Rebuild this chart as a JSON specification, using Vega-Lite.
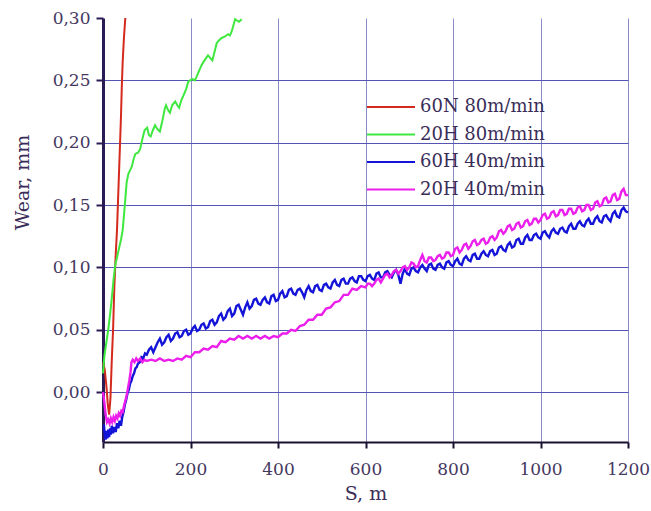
{
"$schema": "https://vega.github.io/schema/vega-lite/v6.json",
"width": 525, "height": 424,
"autosize": {"type": "none"},
"padding": {"left": 103, "top": 18, "right": 23, "bottom": 69},
"background": "white",
"config": {"view": {"stroke": null}, "font": "DejaVu Serif"},
"datasets": {
"red": [{"S":0,"W":0.024},{"S":4,"W":0.018},{"S":8,"W":0.004},{"S":11,"W":-0.010},{"S":14,"W":-0.018},{"S":17,"W":-0.005},{"S":20,"W":0.025},{"S":23,"W":0.05},{"S":26,"W":0.085},{"S":29,"W":0.11},{"S":32,"W":0.13},{"S":35,"W":0.16},{"S":38,"W":0.19},{"S":41,"W":0.22},{"S":43,"W":0.245},{"S":45,"W":0.265},{"S":48,"W":0.285},{"S":51,"W":0.30}],
"green": [{"S":0,"W":0.015},{"S":3,"W":0.028},{"S":6,"W":0.036},{"S":9,"W":0.043},{"S":12,"W":0.05},{"S":16,"W":0.062},{"S":20,"W":0.075},{"S":24,"W":0.09},{"S":28,"W":0.102},{"S":32,"W":0.108},{"S":37,"W":0.116},{"S":41,"W":0.122},{"S":45,"W":0.13},{"S":48,"W":0.142},{"S":51,"W":0.155},{"S":54,"W":0.168},{"S":58,"W":0.175},{"S":62,"W":0.178},{"S":66,"W":0.181},{"S":70,"W":0.187},{"S":74,"W":0.191},{"S":80,"W":0.192},{"S":85,"W":0.195},{"S":90,"W":0.203},{"S":95,"W":0.210},{"S":101,"W":0.212},{"S":105,"W":0.206},{"S":109,"W":0.205},{"S":114,"W":0.210},{"S":119,"W":0.214},{"S":124,"W":0.211},{"S":130,"W":0.209},{"S":136,"W":0.218},{"S":141,"W":0.227},{"S":144,"W":0.230},{"S":149,"W":0.226},{"S":153,"W":0.224},{"S":158,"W":0.230},{"S":165,"W":0.233},{"S":170,"W":0.230},{"S":174,"W":0.228},{"S":179,"W":0.234},{"S":184,"W":0.238},{"S":190,"W":0.243},{"S":195,"W":0.249},{"S":199,"W":0.250},{"S":205,"W":0.251},{"S":210,"W":0.250},{"S":214,"W":0.253},{"S":220,"W":0.258},{"S":225,"W":0.262},{"S":230,"W":0.265},{"S":236,"W":0.268},{"S":240,"W":0.270},{"S":245,"W":0.268},{"S":250,"W":0.266},{"S":255,"W":0.273},{"S":260,"W":0.280},{"S":265,"W":0.282},{"S":271,"W":0.284},{"S":278,"W":0.285},{"S":286,"W":0.287},{"S":290,"W":0.286},{"S":294,"W":0.289},{"S":298,"W":0.294},{"S":302,"W":0.299},{"S":306,"W":0.298},{"S":311,"W":0.297},{"S":317,"W":0.299}],
"blue": [{"S":2,"W":-0.026},{"S":4,"W":-0.034},{"S":6,"W":-0.038},{"S":8,"W":-0.031},{"S":10,"W":-0.037},{"S":12,"W":-0.030},{"S":14,"W":-0.036},{"S":16,"W":-0.029},{"S":18,"W":-0.034},{"S":20,"W":-0.027},{"S":23,"W":-0.033},{"S":26,"W":-0.028},{"S":29,"W":-0.032},{"S":32,"W":-0.025},{"S":35,"W":-0.029},{"S":38,"W":-0.023},{"S":41,"W":-0.027},{"S":44,"W":-0.020},{"S":47,"W":-0.016},{"S":50,"W":-0.010},{"S":53,"W":-0.006},{"S":56,"W":-0.001},{"S":59,"W":0.002},{"S":62,"W":0.007},{"S":65,"W":0.009},{"S":68,"W":0.013},{"S":71,"W":0.015},{"S":74,"W":0.019},{"S":77,"W":0.020},{"S":80,"W":0.023},{"S":84,"W":0.024},{"S":88,"W":0.028},{"S":92,"W":0.027},{"S":96,"W":0.031},{"S":100,"W":0.030},{"S":105,"W":0.034},{"S":110,"W":0.036},{"S":115,"W":0.032},{"S":120,"W":0.036},{"S":125,"W":0.040},{"S":130,"W":0.043},{"S":135,"W":0.038},{"S":140,"W":0.040},{"S":145,"W":0.044},{"S":150,"W":0.046},{"S":155,"W":0.041},{"S":160,"W":0.043},{"S":165,"W":0.047},{"S":170,"W":0.048},{"S":175,"W":0.044},{"S":180,"W":0.045},{"S":185,"W":0.049},{"S":190,"W":0.050},{"S":195,"W":0.046},{"S":200,"W":0.047},{"S":205,"W":0.051},{"S":210,"W":0.053},{"S":215,"W":0.049},{"S":220,"W":0.050},{"S":225,"W":0.054},{"S":230,"W":0.055},{"S":235,"W":0.051},{"S":240,"W":0.052},{"S":245,"W":0.057},{"S":250,"W":0.058},{"S":255,"W":0.054},{"S":260,"W":0.056},{"S":265,"W":0.061},{"S":270,"W":0.063},{"S":275,"W":0.058},{"S":280,"W":0.060},{"S":285,"W":0.065},{"S":290,"W":0.067},{"S":295,"W":0.061},{"S":300,"W":0.063},{"S":305,"W":0.069},{"S":310,"W":0.070},{"S":315,"W":0.066},{"S":320,"W":0.062},{"S":325,"W":0.068},{"S":330,"W":0.072},{"S":335,"W":0.067},{"S":340,"W":0.069},{"S":345,"W":0.074},{"S":350,"W":0.075},{"S":355,"W":0.071},{"S":360,"W":0.070},{"S":365,"W":0.074},{"S":370,"W":0.076},{"S":375,"W":0.072},{"S":380,"W":0.071},{"S":385,"W":0.077},{"S":390,"W":0.078},{"S":395,"W":0.073},{"S":400,"W":0.074},{"S":405,"W":0.079},{"S":410,"W":0.081},{"S":415,"W":0.076},{"S":420,"W":0.077},{"S":425,"W":0.082},{"S":430,"W":0.083},{"S":435,"W":0.079},{"S":440,"W":0.078},{"S":445,"W":0.082},{"S":450,"W":0.083},{"S":455,"W":0.080},{"S":460,"W":0.076},{"S":465,"W":0.082},{"S":470,"W":0.085},{"S":475,"W":0.081},{"S":480,"W":0.080},{"S":485,"W":0.085},{"S":490,"W":0.086},{"S":495,"W":0.082},{"S":500,"W":0.081},{"S":505,"W":0.086},{"S":510,"W":0.087},{"S":515,"W":0.084},{"S":520,"W":0.083},{"S":525,"W":0.088},{"S":530,"W":0.090},{"S":535,"W":0.086},{"S":540,"W":0.085},{"S":545,"W":0.090},{"S":550,"W":0.091},{"S":555,"W":0.087},{"S":560,"W":0.087},{"S":565,"W":0.091},{"S":570,"W":0.092},{"S":575,"W":0.089},{"S":580,"W":0.088},{"S":585,"W":0.093},{"S":590,"W":0.093},{"S":595,"W":0.090},{"S":600,"W":0.089},{"S":605,"W":0.093},{"S":610,"W":0.094},{"S":615,"W":0.091},{"S":620,"W":0.090},{"S":625,"W":0.095},{"S":630,"W":0.096},{"S":635,"W":0.092},{"S":640,"W":0.092},{"S":645,"W":0.096},{"S":650,"W":0.097},{"S":655,"W":0.094},{"S":660,"W":0.092},{"S":665,"W":0.096},{"S":670,"W":0.098},{"S":675,"W":0.094},{"S":680,"W":0.087},{"S":685,"W":0.095},{"S":690,"W":0.099},{"S":695,"W":0.095},{"S":700,"W":0.094},{"S":705,"W":0.099},{"S":710,"W":0.100},{"S":715,"W":0.097},{"S":720,"W":0.096},{"S":725,"W":0.100},{"S":730,"W":0.102},{"S":735,"W":0.099},{"S":740,"W":0.097},{"S":745,"W":0.102},{"S":750,"W":0.103},{"S":755,"W":0.099},{"S":760,"W":0.098},{"S":765,"W":0.102},{"S":770,"W":0.103},{"S":775,"W":0.100},{"S":780,"W":0.099},{"S":785,"W":0.104},{"S":790,"W":0.105},{"S":795,"W":0.102},{"S":800,"W":0.101},{"S":805,"W":0.105},{"S":810,"W":0.107},{"S":815,"W":0.103},{"S":820,"W":0.102},{"S":825,"W":0.107},{"S":830,"W":0.109},{"S":835,"W":0.106},{"S":840,"W":0.105},{"S":845,"W":0.110},{"S":850,"W":0.111},{"S":855,"W":0.107},{"S":860,"W":0.107},{"S":865,"W":0.111},{"S":870,"W":0.113},{"S":875,"W":0.110},{"S":880,"W":0.109},{"S":885,"W":0.113},{"S":890,"W":0.114},{"S":895,"W":0.110},{"S":900,"W":0.111},{"S":905,"W":0.116},{"S":910,"W":0.117},{"S":915,"W":0.114},{"S":920,"W":0.113},{"S":925,"W":0.118},{"S":930,"W":0.120},{"S":935,"W":0.116},{"S":940,"W":0.117},{"S":945,"W":0.122},{"S":950,"W":0.123},{"S":955,"W":0.119},{"S":960,"W":0.119},{"S":965,"W":0.124},{"S":970,"W":0.126},{"S":975,"W":0.122},{"S":980,"W":0.122},{"S":985,"W":0.126},{"S":990,"W":0.127},{"S":995,"W":0.124},{"S":1000,"W":0.123},{"S":1005,"W":0.128},{"S":1010,"W":0.129},{"S":1015,"W":0.126},{"S":1020,"W":0.124},{"S":1025,"W":0.129},{"S":1030,"W":0.131},{"S":1035,"W":0.128},{"S":1040,"W":0.127},{"S":1045,"W":0.131},{"S":1050,"W":0.132},{"S":1055,"W":0.129},{"S":1060,"W":0.128},{"S":1065,"W":0.133},{"S":1070,"W":0.135},{"S":1075,"W":0.131},{"S":1080,"W":0.131},{"S":1085,"W":0.135},{"S":1090,"W":0.137},{"S":1095,"W":0.134},{"S":1100,"W":0.133},{"S":1105,"W":0.137},{"S":1110,"W":0.139},{"S":1115,"W":0.135},{"S":1120,"W":0.135},{"S":1125,"W":0.139},{"S":1130,"W":0.141},{"S":1135,"W":0.137},{"S":1140,"W":0.136},{"S":1145,"W":0.141},{"S":1150,"W":0.142},{"S":1155,"W":0.139},{"S":1160,"W":0.137},{"S":1165,"W":0.143},{"S":1170,"W":0.145},{"S":1175,"W":0.141},{"S":1180,"W":0.140},{"S":1185,"W":0.146},{"S":1190,"W":0.148},{"S":1195,"W":0.145},{"S":1200,"W":0.144}],
"magenta": [{"S":0,"W":0.0},{"S":3,"W":-0.008},{"S":6,"W":-0.018},{"S":9,"W":-0.024},{"S":12,"W":-0.022},{"S":15,"W":-0.025},{"S":18,"W":-0.021},{"S":21,"W":-0.024},{"S":24,"W":-0.020},{"S":27,"W":-0.023},{"S":30,"W":-0.019},{"S":33,"W":-0.021},{"S":36,"W":-0.017},{"S":39,"W":-0.019},{"S":42,"W":-0.015},{"S":45,"W":-0.016},{"S":48,"W":-0.011},{"S":51,"W":-0.007},{"S":54,"W":-0.003},{"S":57,"W":0.003},{"S":60,"W":0.009},{"S":63,"W":0.016},{"S":65,"W":0.024},{"S":68,"W":0.026},{"S":72,"W":0.024},{"S":76,"W":0.027},{"S":80,"W":0.025},{"S":85,"W":0.027},{"S":90,"W":0.024},{"S":95,"W":0.026},{"S":100,"W":0.025},{"S":110,"W":0.026},{"S":120,"W":0.025},{"S":130,"W":0.027},{"S":140,"W":0.025},{"S":150,"W":0.026},{"S":160,"W":0.025},{"S":170,"W":0.027},{"S":180,"W":0.026},{"S":190,"W":0.029},{"S":200,"W":0.028},{"S":210,"W":0.032},{"S":220,"W":0.032},{"S":230,"W":0.035},{"S":240,"W":0.034},{"S":250,"W":0.037},{"S":260,"W":0.036},{"S":270,"W":0.041},{"S":280,"W":0.040},{"S":290,"W":0.043},{"S":300,"W":0.042},{"S":310,"W":0.045},{"S":320,"W":0.043},{"S":330,"W":0.045},{"S":340,"W":0.043},{"S":350,"W":0.045},{"S":360,"W":0.043},{"S":370,"W":0.045},{"S":380,"W":0.043},{"S":390,"W":0.045},{"S":400,"W":0.044},{"S":410,"W":0.047},{"S":420,"W":0.047},{"S":430,"W":0.050},{"S":440,"W":0.049},{"S":450,"W":0.053},{"S":460,"W":0.054},{"S":470,"W":0.058},{"S":480,"W":0.058},{"S":490,"W":0.062},{"S":500,"W":0.062},{"S":510,"W":0.067},{"S":520,"W":0.068},{"S":530,"W":0.072},{"S":540,"W":0.073},{"S":550,"W":0.078},{"S":560,"W":0.078},{"S":570,"W":0.083},{"S":580,"W":0.082},{"S":590,"W":0.085},{"S":600,"W":0.084},{"S":605,"W":0.087},{"S":610,"W":0.087},{"S":615,"W":0.085},{"S":620,"W":0.087},{"S":625,"W":0.090},{"S":630,"W":0.091},{"S":635,"W":0.088},{"S":640,"W":0.091},{"S":645,"W":0.094},{"S":650,"W":0.095},{"S":655,"W":0.092},{"S":660,"W":0.094},{"S":665,"W":0.097},{"S":670,"W":0.098},{"S":675,"W":0.095},{"S":680,"W":0.097},{"S":685,"W":0.100},{"S":690,"W":0.101},{"S":695,"W":0.098},{"S":700,"W":0.100},{"S":705,"W":0.104},{"S":710,"W":0.103},{"S":715,"W":0.100},{"S":720,"W":0.101},{"S":725,"W":0.106},{"S":730,"W":0.110},{"S":735,"W":0.105},{"S":740,"W":0.104},{"S":745,"W":0.108},{"S":750,"W":0.108},{"S":755,"W":0.105},{"S":760,"W":0.106},{"S":765,"W":0.109},{"S":770,"W":0.110},{"S":775,"W":0.107},{"S":780,"W":0.108},{"S":785,"W":0.112},{"S":790,"W":0.112},{"S":795,"W":0.109},{"S":800,"W":0.110},{"S":805,"W":0.115},{"S":810,"W":0.116},{"S":815,"W":0.112},{"S":820,"W":0.114},{"S":825,"W":0.118},{"S":830,"W":0.119},{"S":835,"W":0.115},{"S":840,"W":0.117},{"S":845,"W":0.121},{"S":850,"W":0.122},{"S":855,"W":0.118},{"S":860,"W":0.119},{"S":865,"W":0.122},{"S":870,"W":0.123},{"S":875,"W":0.119},{"S":880,"W":0.120},{"S":885,"W":0.124},{"S":890,"W":0.125},{"S":895,"W":0.122},{"S":900,"W":0.124},{"S":905,"W":0.129},{"S":910,"W":0.130},{"S":915,"W":0.127},{"S":920,"W":0.129},{"S":925,"W":0.133},{"S":930,"W":0.134},{"S":935,"W":0.130},{"S":940,"W":0.131},{"S":945,"W":0.135},{"S":950,"W":0.136},{"S":955,"W":0.132},{"S":960,"W":0.133},{"S":965,"W":0.137},{"S":970,"W":0.138},{"S":975,"W":0.134},{"S":980,"W":0.135},{"S":985,"W":0.139},{"S":990,"W":0.139},{"S":995,"W":0.136},{"S":1000,"W":0.138},{"S":1005,"W":0.142},{"S":1010,"W":0.143},{"S":1015,"W":0.139},{"S":1020,"W":0.140},{"S":1025,"W":0.144},{"S":1030,"W":0.145},{"S":1035,"W":0.141},{"S":1040,"W":0.142},{"S":1045,"W":0.146},{"S":1050,"W":0.146},{"S":1055,"W":0.142},{"S":1060,"W":0.143},{"S":1065,"W":0.147},{"S":1070,"W":0.147},{"S":1075,"W":0.143},{"S":1080,"W":0.144},{"S":1085,"W":0.148},{"S":1090,"W":0.149},{"S":1095,"W":0.145},{"S":1100,"W":0.146},{"S":1105,"W":0.150},{"S":1110,"W":0.150},{"S":1115,"W":0.146},{"S":1120,"W":0.147},{"S":1125,"W":0.152},{"S":1130,"W":0.153},{"S":1135,"W":0.149},{"S":1140,"W":0.150},{"S":1145,"W":0.155},{"S":1150,"W":0.156},{"S":1155,"W":0.152},{"S":1160,"W":0.153},{"S":1165,"W":0.158},{"S":1170,"W":0.159},{"S":1175,"W":0.154},{"S":1180,"W":0.155},{"S":1185,"W":0.161},{"S":1190,"W":0.163},{"S":1195,"W":0.158},{"S":1200,"W":0.158}]
},
"encoding": {
  "x": {"field": "S", "type": "quantitative",
    "scale": {"domain": [0, 1200], "nice": false, "zero": false},
    "axis": {"title": "S, m", "values": [0,200,400,600,800,1000,1200], "format": "d",
      "labelFlush": false, "labelOverlap": false, "labelFont": "DejaVu Serif", "labelFontSize": 17, "labelColor": "#45385f",
      "labelPadding": 13, "tickSize": 6, "tickWidth": 2, "tickColor": "#1a1030",
      "domainColor": "#1a1030", "domainWidth": 2,
      "grid": true, "gridColor": "#8a8ac4", "gridWidth": 1,
      "gridOpacity": {"condition": {"test": "datum.value < 1", "value": 0}, "value": 1},
      "titleFont": "DejaVu Serif", "titleFontSize": 19, "titleFontWeight": "normal", "titleColor": "#3a2d58",
      "titleY": 51, "titleBaseline": "middle"}},
  "y": {"field": "W", "type": "quantitative",
    "scale": {"domain": [-0.04, 0.30], "nice": false, "zero": false},
    "axis": {"title": "Wear, mm", "values": [0,0.05,0.1,0.15,0.2,0.25,0.3],
      "labelExpr": "replace(format(datum.value, '.2f'), '.', ',')",
      "labelOverlap": false, "labelFont": "DejaVu Serif", "labelFontSize": 17, "labelColor": "#45385f",
      "labelPadding": 6, "tickSize": 7, "tickWidth": 2, "tickColor": "#2b1b55",
      "domainColor": "#2b1b55", "domainWidth": 3,
      "grid": true, "gridColor": "#5454b2", "gridWidth": 1,
      "gridOpacity": {"condition": {"test": "datum.value > 0.29", "value": 0}, "value": 1},
      "titleFont": "DejaVu Serif", "titleFontSize": 19, "titleFontWeight": "normal", "titleColor": "#3a2d58",
      "titleX": -81, "titleY": 164, "titleAngle": -90, "titleAlign": "center", "titleBaseline": "middle"}},
  "color": {"type": "nominal",
    "scale": {"domain": ["60N 80m/min", "20H 80m/min", "60H 40m/min", "20H 40m/min"],
              "range": ["#d42a1e", "#3ee83e", "#1414d8", "#ec1eec"]},
    "legend": {"title": null, "orient": "none", "legendX": 279, "legendY": 80, "padding": 0,
      "symbolType": "M-4,0H4", "symbolSize": 144, "symbolStrokeWidth": 2,
      "rowPadding": 9.5, "labelOffset": 20,
      "labelFont": "DejaVu Serif", "labelFontSize": 18, "labelColor": "#3a2d58", "labelLimit": 300}}
},
"layer": [
  {"data": {"name": "red"}, "mark": {"type": "line", "strokeWidth": 2}, "encoding": {"color": {"datum": "60N 80m/min"}}},
  {"data": {"name": "green"}, "mark": {"type": "line", "strokeWidth": 2}, "encoding": {"color": {"datum": "20H 80m/min"}}},
  {"data": {"name": "blue"}, "mark": {"type": "line", "strokeWidth": 2.4}, "encoding": {"color": {"datum": "60H 40m/min"}}},
  {"data": {"name": "magenta"}, "mark": {"type": "line", "strokeWidth": 2.4}, "encoding": {"color": {"datum": "20H 40m/min"}}}
]
}
